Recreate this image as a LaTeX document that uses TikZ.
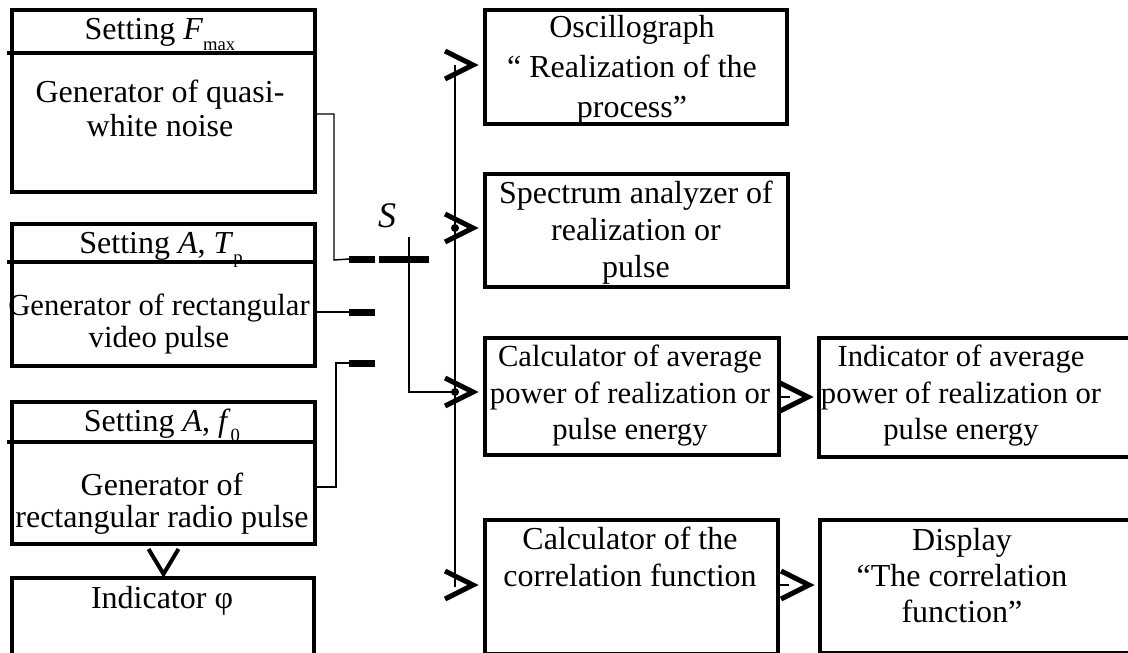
\documentclass[tikz,border=0pt]{standalone}
\usepackage{fontspec}
\setmainfont{Liberation Serif}
\usetikzlibrary{calc}
\newcommand{\lowsub}[2][-9pt]{\raisebox{#1}{\fontsize{14pt}{14pt}\selectfont #2}}
\begin{document}
\begin{tikzpicture}[x=0.75pt,y=-0.75pt,
  box/.style={draw, line width=3pt, inner sep=0pt, anchor=north west},
  txt/.style={align=center, inner sep=0pt, font=\fontsize{24pt}{#1}\selectfont},
  txt/.default=25.5pt,
  tsm/.style={align=center, inner sep=0pt, font=\fontsize{23pt}{#1}\selectfont},
  wire/.style={line width=1.1pt},
  chev/.style={line width=3.75pt, line cap=butt, line join=miter},
  bar/.style={line width=5.25pt},
  pics/chevR/.style={code={\draw[chev] (-28,-14) -- (0,0) -- (-28,14);}}]
\useasboundingbox (0,0) rectangle (1128,653);

% ---------- left column boxes ----------
\node[box, minimum width=227.25pt, minimum height=136.5pt] (gen1) at (10,8) {};
\node[box, minimum width=227.25pt, minimum height=106.5pt] (gen2) at (10,222) {};
\node[box, minimum width=227.25pt, minimum height=106.5pt] (gen3) at (10,400) {};
\node[box, minimum width=226.5pt, minimum height=75pt] (indphi) at (10,576) {};

\node[txt, anchor=base] (h1) at (160,39) {Setting \textit{F}\lowsub{max}};
\node[txt=25.5pt] (t1) at (160,113) {\strut Generator of quasi-\\white noise\strut};
\node[txt, anchor=base] (h2) at (161,253) {Setting \textit{A}, \textit{T}\lowsub[-8pt]{p}};
\node[tsm=24pt] (t2) at (159,324.6) {\strut Generator of rectangular\\video pulse\strut};
\node[txt, anchor=base] (h3) at (162,431) {Setting \textit{A}, \textit{f}\lowsub[-8pt]{0}};
\node[txt=24pt] (t3) at (162,504.6) {\strut Generator of\\rectangular radio pulse\strut};
\node[txt, anchor=base] (t4) at (162,608) {Indicator φ};

\draw[line width=3pt] (7,53) -- (gen1.east |- 0,53);
\draw[line width=3pt] (7,262) -- (gen2.east |- 0,262);
\draw[line width=3pt] (7,442) -- (gen3.east |- 0,442);

% ---------- right column boxes ----------
\node[box, minimum width=226.5pt, minimum height=85.5pt] (osc) at (483,8) {};
\node[box, minimum width=227.25pt, minimum height=84.75pt] (spec) at (483,172) {};
\node[box, minimum width=220.5pt, minimum height=87.75pt] (cavg) at (483,336) {};
\node[box, minimum width=219.75pt, minimum height=100.5pt] (ccor) at (483,518) {};
\node[box, minimum width=247.5pt, minimum height=89.25pt] (iavg) at (817,336) {};
\node[box, minimum width=247.5pt, minimum height=99.75pt] (disp) at (818,518) {};

\node[txt=30pt] (t5) at (632,69.5) {\strut Oscillograph\\“ Realization of the\\process”\strut};
\node[txt=28pt] (t6) at (636,233) {\strut Spectrum analyzer of\\realization or\\pulse\strut};
\node[tsm=27.4pt] (t7) at (630,396) {\strut Calculator of average\\power of realization or\\pulse energy\strut};
\node[txt=27.75pt] (t8) at (630,561) {\strut Calculator of the\\correlation function\strut};
\node[tsm=27.4pt] (t9) at (961,396) {\strut Indicator of average\\power of realization or\\pulse energy\strut};
\node[txt=27pt] (t10) at (962,579) {\strut Display\\“The correlation\\function”\strut};

% ---------- switch ----------
\node[font=\fontsize{27pt}{27pt}\selectfont\itshape, anchor=base, inner sep=0pt] (S) at (387,227) {S};
\coordinate (k1) at (349,259);
\coordinate (k2) at (349,312);
\coordinate (k3) at (349,363);
\coordinate (sw) at (379,259);
\draw[bar] (k1) -- ++(26,0);
\draw[bar] (k2) -- ++(26,0);
\draw[bar] (k3) -- ++(26,0);
\draw[bar] (sw) -- ++(50,0);

\draw[wire] (gen1.east |- 0,114) -- (334,114) -- (334,260) -- (k1);
\draw[wire] (gen2.east |- k2) -- (k2);
\draw[wire] (gen3.east |- 0,487) -- (336,487) -- (336,363) -- (k3);

% ---------- bus ----------
\coordinate (bustop) at (455,65);
\coordinate (busbot) at (455,587);
\coordinate (j1) at (455,228);
\coordinate (j2) at (455,392);
\draw[wire] (bustop) -- (busbot);
\draw[wire] (409,237) -- (409,392) -- (j2);
\fill (j1) circle[radius=3pt];
\fill (j2) circle[radius=3pt];

\path (osc.west |- bustop) ++(-10,0) pic {chevR};
\path (spec.west |- j1) ++(-10,0) pic {chevR};
\path (cavg.west |- j2) ++(-10,0) pic {chevR};
\path (ccor.west |- busbot) ++(-10,-2) pic {chevR};

% ---------- right arrows ----------
\draw[wire] (cavg.east |- 0,397) -- ++(9,0);
\path (iavg.west |- 0,397) ++(-9,0) pic {chevR};
\draw[wire] (ccor.east |- 0,585) -- ++(9,0);
\path (disp.west |- 0,585) ++(-9,0) pic {chevR};

% ---------- phase indicator arrow ----------
\draw[line width=3pt, line join=miter] (gen3.south) ++(-15,3) -- ++(15,25) -- ++(15,-25);
\end{tikzpicture}
\end{document}
